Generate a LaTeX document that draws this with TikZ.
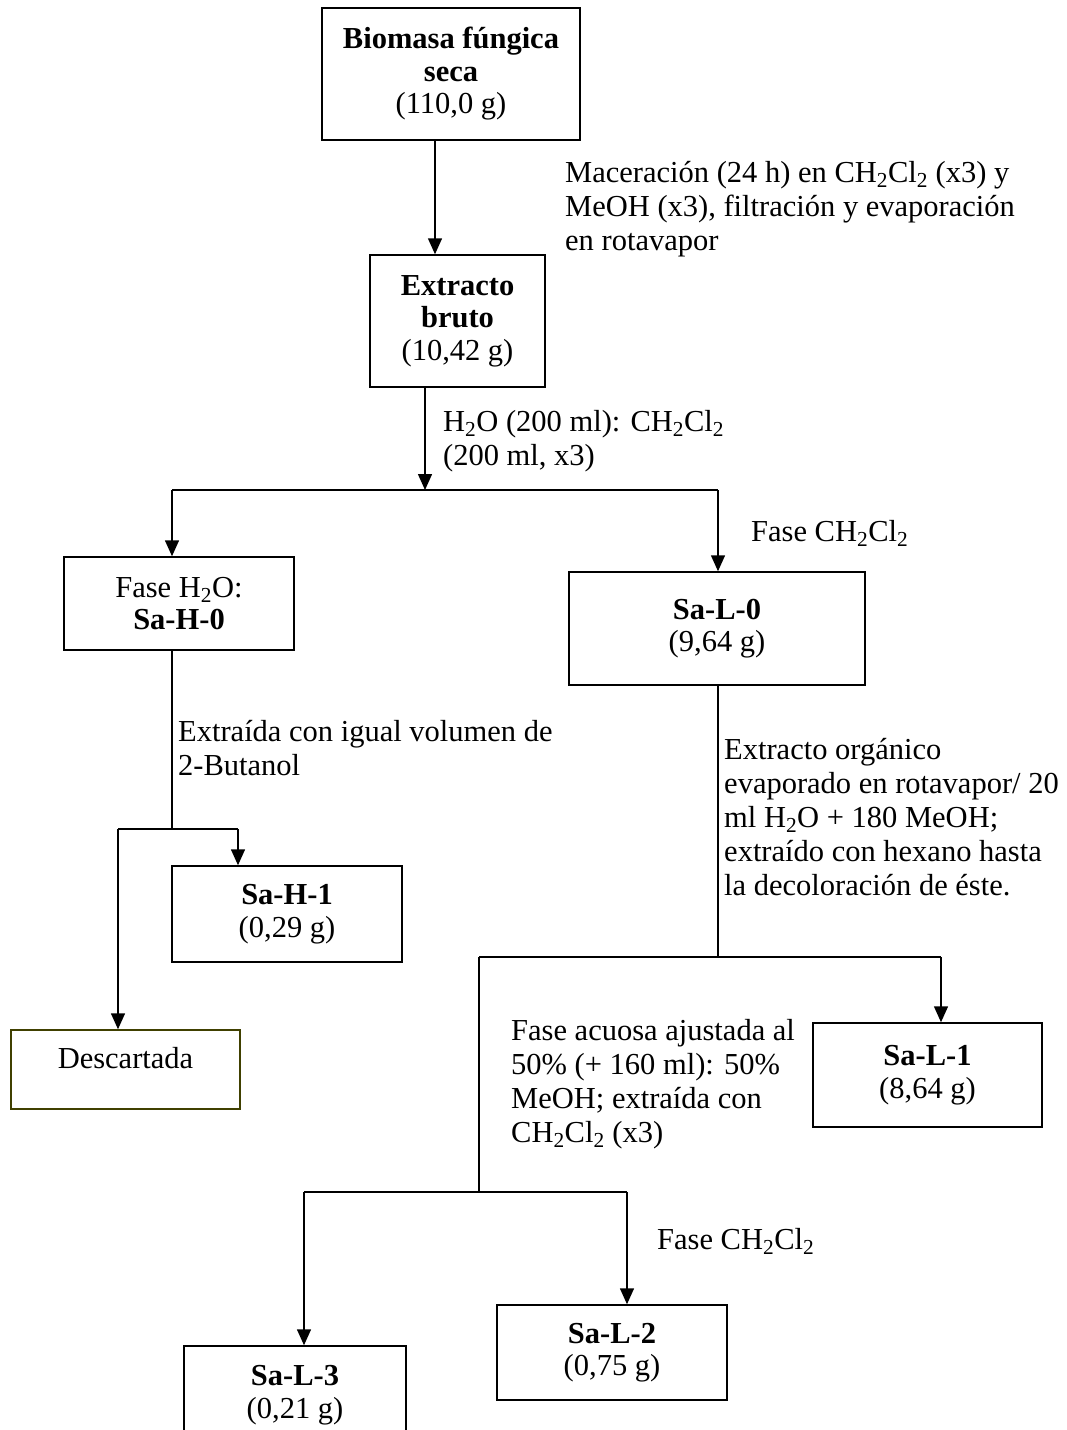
\documentclass[tikz,border=0pt]{standalone}
\usepackage{fontspec}
\setmainfont{Liberation Serif}
\usetikzlibrary{arrows.meta}
\newcommand{\chcl}{CH\textsubscript{2}Cl\textsubscript{2}}
\definecolor{olivebox}{RGB}{64,64,0}
\begin{document}
\begin{tikzpicture}[x=1pt,y=-1pt,
  every node/.style={font=\fontsize{30.5}{32.5}\selectfont},
  box/.style={draw,line width=1.5pt,align=center,inner sep=0pt},
  lbl/.style={anchor=north west,align=left,inner sep=0pt,font=\fontsize{30.5}{34}\selectfont},
  ln/.style={line width=1.5pt},
  arr/.style={line width=1.5pt,-{Triangle[length=16pt,width=14pt]}}]
\useasboundingbox (0,0) rectangle (1067,1430);
% boxes
\node[box,minimum width=258pt,minimum height=132pt] (bio) at (451,74) {\textbf{Biomasa fúngica}\\\textbf{seca}\\(110,0 g)};
\node[box,minimum width=175pt,minimum height=132pt] (ext) at (457.5,321) {\textbf{Extracto}\\\textbf{bruto}\\(10,42 g)};
\node[box,minimum width=230pt,minimum height=93pt] (h0) at (179,603.5) {Fase H\textsubscript{2}O:\\\textbf{Sa-H-0}};
\node[box,minimum width=296pt,minimum height=113pt] (l0) at (717,628.5) {\textbf{Sa-L-0}\\(9,64 g)};
\node[box,minimum width=230pt,minimum height=96pt] (h1) at (287,914) {\textbf{Sa-H-1}\\(0,29 g)};
\node[box,draw=olivebox,minimum width=229pt,minimum height=79pt,text depth=23pt] (desc) at (125.5,1069.5) {Descartada};
\node[box,minimum width=229pt,minimum height=104pt] (l1) at (927.5,1075) {\textbf{Sa-L-1}\\(8,64 g)};
\node[box,minimum width=230pt,minimum height=95pt] (l2) at (612,1352.5) {\textbf{Sa-L-2}\\(0,75 g)};
\node[box,minimum width=222pt,minimum height=98pt] (l3) at (295,1395) {\textbf{Sa-L-3}\\(0,21 g)};
% labels
\node[lbl] (mac) at (565,161) {Maceración (24 h) en \chcl{} (x3) y\\MeOH (x3), filtración y evaporación\\en rotavapor};
\node[lbl] (hdo) at (443,410) {H\textsubscript{2}O (200 ml): \chcl\\(200 ml, x3)};
\node[lbl] (fa) at (751,520) {Fase \chcl};
\node[lbl] (but) at (178,720) {Extraída con igual volumen de\\2-Butanol};
\node[lbl] (org) at (724,738) {Extracto orgánico\\evaporado en rotavapor/ 20\\ml H\textsubscript{2}O + 180 MeOH;\\extraído con hexano hasta\\la decoloración de éste.};
\node[lbl] (acu) at (511,1019) {Fase acuosa ajustada al\\50\% (+ 160 ml): 50\%\\MeOH; extraída con\\\chcl{} (x3)};
\node[lbl] (fb) at (657,1228) {Fase \chcl};
% junctions
\coordinate (j0) at (435,200);
\coordinate (jA) at (425,490);
\coordinate (jAL) at (172,490);
\coordinate (jAR) at (718,490);
\coordinate (jB) at (172,829);
\coordinate (jBL) at (118,829);
\coordinate (jBR) at (238,829);
\coordinate (jC) at (718,957);
\coordinate (jCL) at (479,957);
\coordinate (jCR) at (941,957);
\coordinate (jD) at (479,1192);
\coordinate (jDL) at (304,1192);
\coordinate (jDR) at (627,1192);
% connectors
\draw[arr] (j0 |- bio.south) -- (j0 |- ext.north);
\draw[arr] (jA |- ext.south) -- (jA);
\draw[ln] (jAL) -- (jAR);
\draw[arr] (jAL) -- (jAL |- h0.north);
\draw[arr] (jAR) -- (jAR |- l0.north);
\draw[ln] (jB |- h0.south) -- (jB);
\draw[ln] (jBL) -- (jBR);
\draw[arr] (jBR) -- (jBR |- h1.north);
\draw[arr] (jBL) -- (jBL |- desc.north);
\draw[ln] (jC |- l0.south) -- (jC);
\draw[ln] (jCL) -- (jCR);
\draw[arr] (jCR) -- (jCR |- l1.north);
\draw[ln] (jCL) -- (jD);
\draw[ln] (jDL) -- (jDR);
\draw[arr] (jDL) -- (jDL |- l3.north);
\draw[arr] (jDR) -- (jDR |- l2.north);
\end{tikzpicture}
\end{document}
